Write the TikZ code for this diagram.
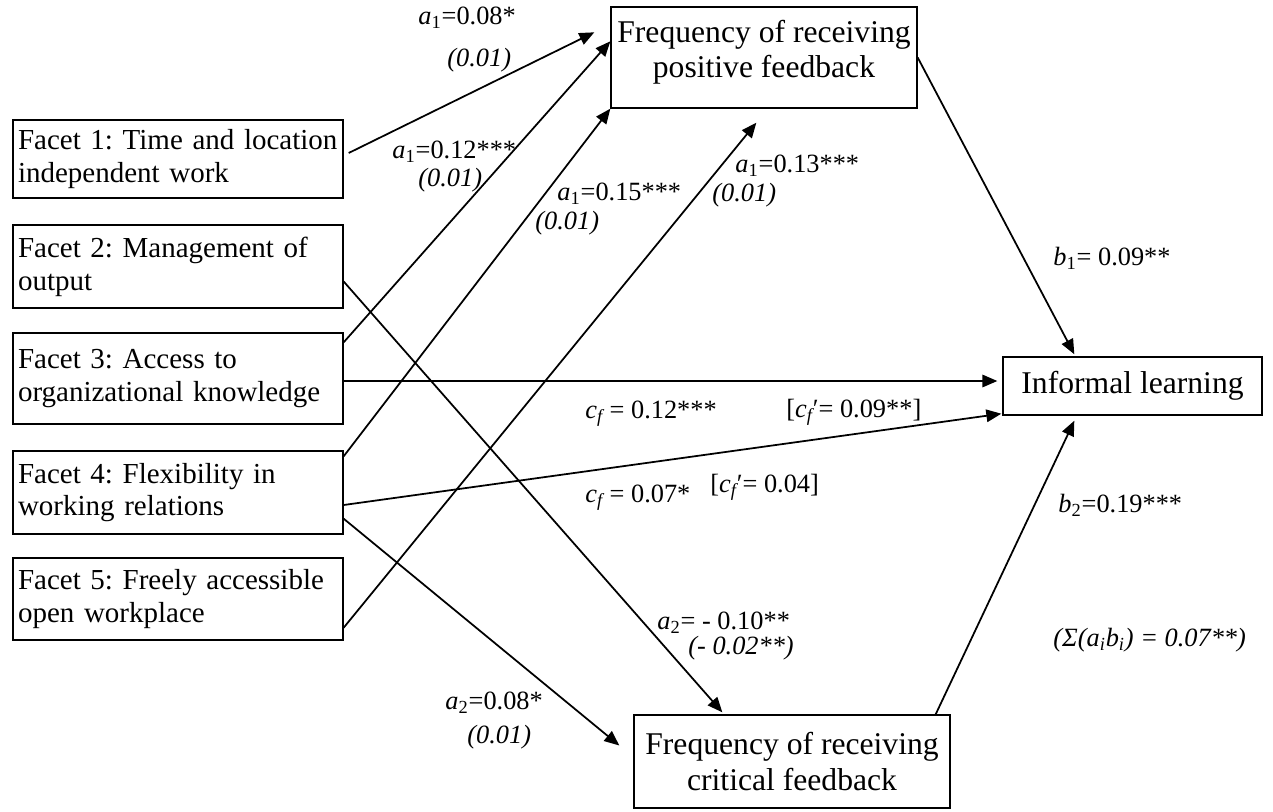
\documentclass[tikz,border=0pt]{standalone}
\usepackage{fontspec}
\setmainfont{Liberation Serif}
\usetikzlibrary{arrows.meta,calc}
\frenchspacing
\begin{document}
\begin{tikzpicture}[x=0.02cm,y=-0.02cm,
  facet/.style={draw,line width=0.8pt,minimum width=6.6cm,text width=6.4cm,align=left,inner xsep=0.1cm,inner ysep=0pt,font=\fontsize{16.5}{18.7}\selectfont\frenchspacing},
  med/.style={draw,line width=0.8pt,align=center,inner sep=0pt,font=\fontsize{18}{20}\selectfont},
  lab/.style={inner sep=0pt,anchor=west,font=\fontsize{15}{17}\selectfont},
  arr/.style={line width=1pt,-{Triangle[length=0.3cm,width=0.25cm]}}]
\useasboundingbox (0,0) rectangle (1273,811);
% boxes
\node[facet,minimum height=1.56cm] (f1) at (178,159) {Facet 1: Time and location\\independent work};
\node[facet,minimum height=1.66cm] (f2) at (178,266.5) {Facet 2: Management of\\output};
\node[facet,minimum height=1.82cm] (f3) at (178,378.5) {Facet 3: Access to\\organizational knowledge};
\node[facet,minimum height=1.66cm] (f4) at (178,492.5) {Facet 4: Flexibility in\\working relations};
\node[facet,minimum height=1.64cm] (f5) at (178,599) {Facet 5: Freely accessible\\open workplace};
\node[med,minimum width=6.12cm,minimum height=2.02cm,text depth=0.34cm] (pos) at (764,57.5) {Frequency of receiving\\positive feedback};
\node[med,minimum width=5.18cm,minimum height=1.16cm] (il) at (1132.5,386) {Informal learning};
\node[med,minimum width=6.32cm,minimum height=1.86cm] (crit) at (792,761.5) {Frequency of receiving\\critical feedback};
% connectors
\draw[arr] ($(f1.east)+(5,-6)$) -- ($(pos.north west)+(-16,26)$);
\draw[arr] ($(f3.north east)+(0,10)$) -- ($(pos.north west)+(0,35)$);
\draw[arr] ($(f4.north east)+(0,6)$) -- (pos.south west);
\draw[arr] ($(f5.south east)+(0,-13)$) -- ($(pos.south west)+(146,14)$);
\draw[arr] ($(f2.east)+(0,15)$) -- ($(crit.north west)+(89,-2)$);
\draw[arr] ($(f4.south east)+(0,-16)$) -- ($(crit.west)+(-14,-16)$);
\coordinate (ilin) at ($(il.west)+(-5,-5)$);
\draw[arr] (f3.east |- ilin) -- (ilin);
\draw[arr] ($(f4.east)+(0,12.5)$) -- ($(il.south west)+(-1,-2)$);
\draw[arr] (pos.east) -- ($(il.north west)+(72,-2)$);
\draw[arr] ($(crit.north east)+(-15,0)$) -- ($(il.south west)+(72,5)$);
% labels
\node[lab] (l1) at (418,18) {\textit{a}\textsubscript{1}=0.08*};
\node[lab] (l1s) at (447,60) {\textit{(0.01)}};
\node[lab] (l2) at (392,152) {\textit{a}\textsubscript{1}=0.12***};
\node[lab] (l2s) at (418,180) {\textit{(0.01)}};
\node[lab] (l3) at (557,194) {\textit{a}\textsubscript{1}=0.15***};
\node[lab] (l3s) at (535,223) {\textit{(0.01)}};
\node[lab] (l4) at (735,166) {\textit{a}\textsubscript{1}=0.13***};
\node[lab] (l4s) at (712,195) {\textit{(0.01)}};
\node[lab] (lb1) at (1053,258) {\textit{b}\textsubscript{1}= 0.09**};
\node[lab] (lc1) at (585,414) {\textit{c\textsubscript{f}} = 0.12***};
\node[lab] (lc1p) at (786,412) {[\textit{c\textsubscript{f}}′= 0.09**]};
\node[lab] (lc2) at (585,498) {\textit{c\textsubscript{f}} = 0.07*};
\node[lab] (lc2p) at (710,487) {[\textit{c\textsubscript{f}}′= 0.04]};
\node[lab] (lb2) at (1058,505) {\textit{b}\textsubscript{2}=0.19***};
\node[lab] (lsum) at (1053,640) {\textit{(Σ(a\textsubscript{i}b\textsubscript{i}) = 0.07**)}};
\node[lab] (la2) at (657,623) {\textit{a}\textsubscript{2}= - 0.10**};
\node[lab] (la2s) at (688,648) {\textit{(- 0.02**)}};
\node[lab] (la3) at (445,703) {\textit{a}\textsubscript{2}=0.08*};
\node[lab] (la3s) at (467,737) {\textit{(0.01)}};
\end{tikzpicture}
\end{document}
